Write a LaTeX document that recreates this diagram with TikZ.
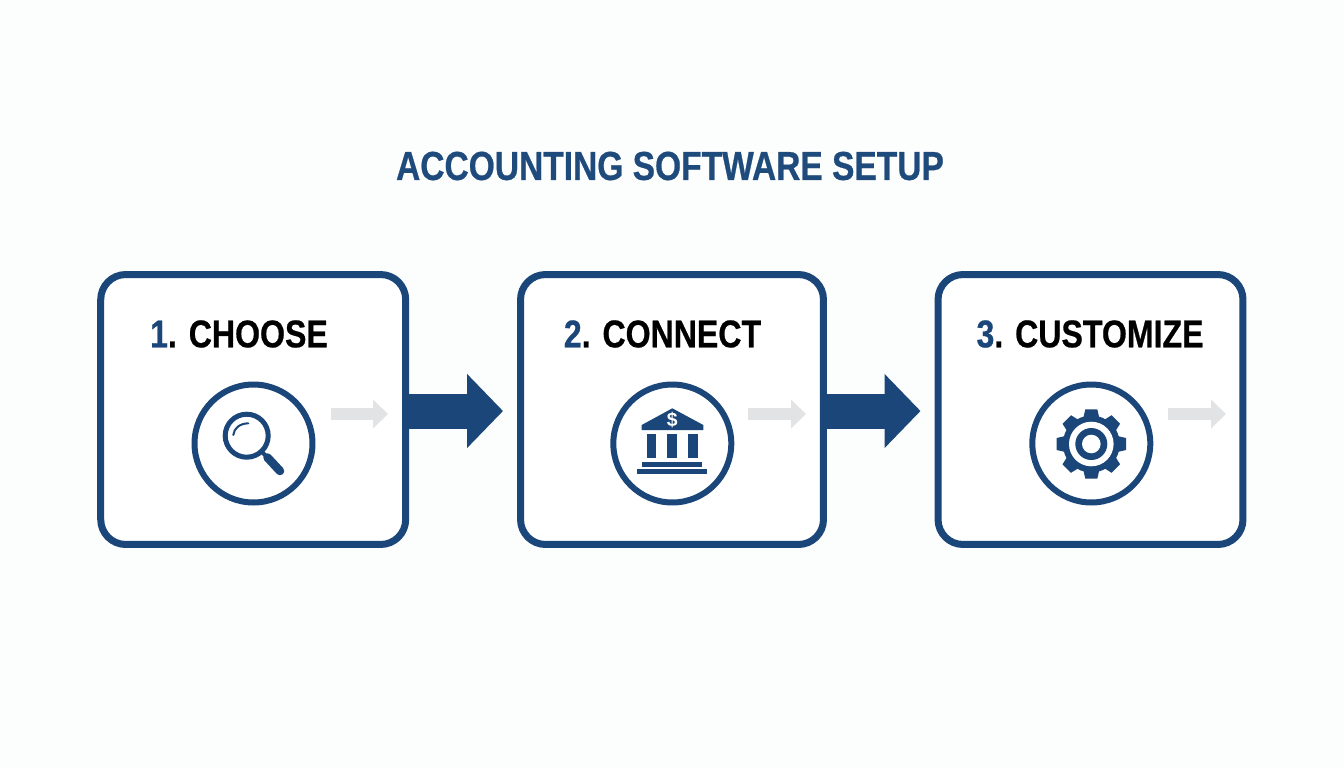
\documentclass[tikz,border=0pt]{standalone}
\usepackage{fontspec}
\usetikzlibrary{arrows.meta}
\newfontfamily\headfont[FakeStretch=0.83,FakeBold=0.6]{Liberation Sans}
\newfontfamily\dollarfont{Liberation Sans}
\definecolor{navy}{HTML}{1B4679}
\definecolor{titlenavy}{HTML}{1F4A7C}
\definecolor{hintgray}{HTML}{E1E3E5}
\definecolor{paper}{HTML}{FCFDFD}
\begin{document}
\begin{tikzpicture}[x=0.02cm,y=-0.02cm]
    \tikzstyle{stepbox}=[draw=navy,fill=white,line width=0.14cm,rounded corners=0.5cm,minimum width=6.1cm,minimum height=5.4cm,inner sep=0pt]
    \tikzstyle{iconring}=[circle,draw=navy,fill=white,line width=0.12cm,minimum size=2.36cm,inner sep=0pt]
    \tikzstyle{steplabel}=[font=\headfont\bfseries\fontsize{22}{26}\selectfont,text=black,inner sep=0pt]
    \tikzstyle{flowarrow}=[navy,line width=0.7cm,-{Triangle[length=0.72cm,width=1.44cm]},shorten >=0.28cm]
    \tikzstyle{hintarrow}=[hintgray,line width=0.24cm,-{Triangle[length=0.3cm,width=0.56cm]}]
    \fill[paper] (0,0) rectangle (1344,768);
    \node[font=\headfont\bfseries\fontsize{23}{28}\selectfont,text=titlenavy,inner sep=0pt] (title) at (670,166){ACCOUNTING SOFTWARE SETUP};
    % step boxes
    \node[stepbox] (box1) at (253.2,409.5){};
    \node[stepbox,minimum width=6.06cm] (box2) at (672,409.5){};
    \node[stepbox] (box3) at (1090.5,409.5){};
    \node[steplabel] (label1) at (239,334){\textcolor{navy}{1}. CHOOSE};
    \node[steplabel] (label2) at (662.5,334){\textcolor{navy}{2}. CONNECT};
    \node[steplabel] (label3) at (1090,334){\textcolor{navy}{3}. CUSTOMIZE};
    \node[iconring] (ring1) at (253.5,443.5){};
    \node[iconring] (ring2) at (672.3,443.5){};
    \node[iconring] (ring3) at (1091.3,443.5){};
    % arrows
    \draw[flowarrow] ([yshift=-0.03cm]box1.east) -- ([yshift=-0.03cm]box2.west);
    \draw[flowarrow] ([yshift=-0.03cm]box2.east) -- ([yshift=-0.03cm]box3.west);
    \coordinate (hint1a) at (331,414);
    \coordinate (hint1b) at (388,414);
    \coordinate (hint2a) at (748,414);
    \coordinate (hint2b) at (806,414);
    \coordinate (hint3a) at (1168,414);
    \coordinate (hint3b) at (1226,414);
    \draw[hintarrow] (hint1a) -- (hint1b);
    \draw[hintarrow] (hint2a) -- (hint2b);
    \draw[hintarrow] (hint3a) -- (hint3b);
    % magnifier
    \draw[navy,line width=0.1cm] (246.7,435.7) circle (21.5);
    \draw[navy,line width=0.04cm,line cap=round] (233.3,435) .. controls (234,428) and (240,423.5) .. (248.3,423.3);
    \draw[navy,line width=0.08cm] (261,451) -- (268,458);
    \draw[navy,line width=0.17cm,line cap=round] (267.5,457.5) -- (280,471);
    % bank
    \fill[navy] (672.3,408.3) -- (703.3,425) -- (703.3,430) -- (641.7,430) -- (641.7,425) -- cycle;
    \node[font=\dollarfont\bfseries\fontsize{11}{12}\selectfont,text=white,inner sep=0pt] (dollar) at (672.3,420.5){\$};
    \fill[navy] (646.7,434.3) rectangle (656,458.3);
    \fill[navy] (667.3,434.3) rectangle (677.3,458.3);
    \fill[navy] (688.3,434.3) rectangle (698.3,458.3);
    \fill[navy] (641.7,462.3) rectangle (702.3,466.7);
    \fill[navy] (636.7,469.3) rectangle (707.3,474.3);
    % gear
    \fill[navy] (1091.3,444) circle (28.5);
    \foreach \a in {0,45,...,315}
        \fill[navy,shift={(1091.3,444)},rotate=\a] (-8,-26) -- (-6,-34.7) -- (6,-34.7) -- (8,-26) -- cycle;
    \fill[white] (1091.3,444) circle (22.3);
    \fill[navy] (1091.3,444) circle (16);
    \fill[white] (1091.3,444) circle (9.3);
\end{tikzpicture}
\end{document}
